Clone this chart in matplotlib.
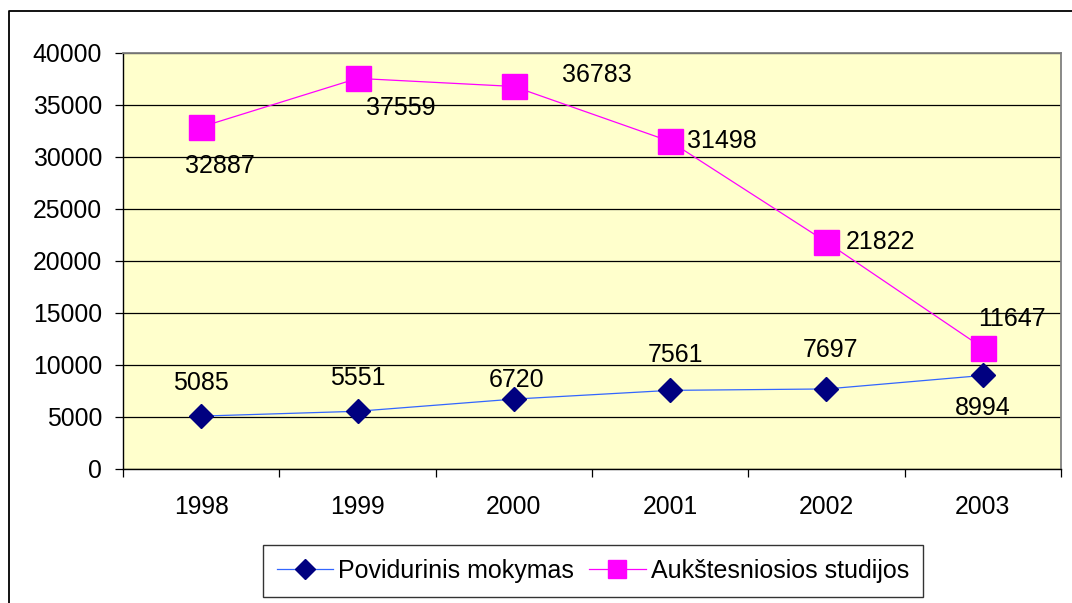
"""Excel-style line chart: Povidurinis mokymas vs Aukštesniosios studijos."""

import matplotlib.pyplot as plt
from matplotlib.lines import Line2D

years = ['1998', '1999', '2000', '2001', '2002', '2003']
povidurinis = [5085, 5551, 6720, 7561, 7697, 8994]
aukstesniosios = [32887, 37559, 36783, 31498, 21822, 11647]
series_names = ['Povidurinis mokymas', 'Aukštesniosios studijos']

# label offsets in pixels (dx, dy), screen coords
pov_offsets = [(0, 33), (0, 33), (3, 19), (5, 35), (4, 39), (0, -33)]
auk_offsets = [(19, -39), (43, -30), (83, 11), (52, 0), (54, 0), (29, 29)]


def main():
    plt.rcParams['font.family'] = ['Liberation Sans', 'DejaVu Sans']
    W, H = 1072, 603
    fs = 17.8
    fig = plt.figure(figsize=(W / 100, H / 100), dpi=100)
    fig.patch.set_facecolor('white')

    # outer chart border (extends past the image right and bottom)
    fig.add_artist(Line2D([9 / W, 9 / W, 1.0], [0.0, 1 - 11 / H, 1 - 11 / H],
                          color='black', lw=1.3, transform=fig.transFigure))

    ax = fig.add_axes([123 / W, (H - 469) / H, 938 / W, 416 / H])
    ax.set_facecolor('#FFFFCC')
    x = list(range(len(years)))

    ax.plot(x, povidurinis, color='#3366FF', lw=0.9, marker='D', ms=12,
            mfc='#000080', mec='#000080', zorder=3)
    ax.plot(x, aukstesniosios, color='#FF00FF', lw=0.9, marker='s', ms=18,
            mfc='#FF00FF', mec='#FF00FF', zorder=3)

    for xi, v, (dx, dy) in zip(x, povidurinis, pov_offsets):
        ax.annotate(str(v), (xi, v), xytext=(dx * 0.72, dy * 0.72),
                    textcoords='offset points', ha='center', va='center',
                    fontsize=18, zorder=4)
    for xi, v, (dx, dy) in zip(x, aukstesniosios, auk_offsets):
        ax.annotate(str(v), (xi, v), xytext=(dx * 0.72, dy * 0.72),
                    textcoords='offset points', ha='center', va='center',
                    fontsize=18, zorder=4)

    ax.set_xlim(-0.5, len(years) - 0.5)
    ax.set_ylim(0, 40000)
    ax.set_yticks(range(0, 40001, 5000))
    ax.yaxis.grid(True, color='black', lw=0.9)
    ax.set_axisbelow(True)

    ax.set_xticks(x)
    ax.set_xticklabels(years)
    ax.set_xticks([i - 0.5 for i in range(len(years) + 1)], minor=True)
    ax.tick_params(axis='x', which='major', length=0, pad=19, labelsize=fs)
    ax.tick_params(axis='x', which='minor', length=6, width=0.9,
                   direction='out', color='black')
    ax.tick_params(axis='y', length=6, width=0.9, direction='out',
                   color='black', pad=9, labelsize=fs)

    for side in ['left', 'bottom']:
        ax.spines[side].set_color('black')
        ax.spines[side].set_linewidth(1.0)
    for side in ['top', 'right']:
        ax.spines[side].set_color('#808080')
        ax.spines[side].set_linewidth(1.3)

    handles = [
        Line2D([], [], color='#3366FF', lw=0.9, marker='D', ms=10,
               mfc='#000080', mec='#000080'),
        Line2D([], [], color='#FF00FF', lw=0.9, marker='s', ms=13,
               mfc='#FF00FF', mec='#FF00FF'),
    ]
    leg = fig.legend(handles, series_names, ncol=2, loc='center',
                     bbox_to_anchor=(593 / W, 1 - 571 / H), fontsize=18,
                     frameon=True, fancybox=False, edgecolor='black',
                     handlelength=2.25, handletextpad=0.2, columnspacing=0.6,
                     borderpad=0.55, borderaxespad=0)
    leg.get_frame().set_linewidth(1.0)

    fig.savefig('out.png', dpi=100)


if __name__ == '__main__':
    main()
